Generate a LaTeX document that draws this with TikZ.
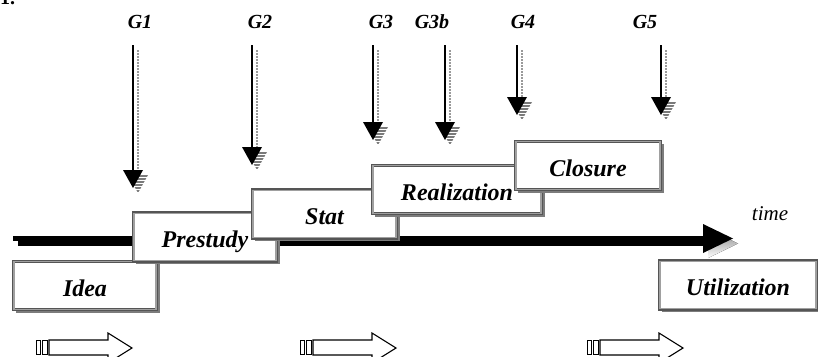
\documentclass[tikz,border=0pt]{standalone}
\usepackage{fontspec}
\setmainfont{Liberation Serif}
\usetikzlibrary{shadows,calc}

\definecolor{boxdark}{HTML}{555555}
\definecolor{boxlight}{HTML}{A0A0A0}
\definecolor{shade}{HTML}{7C7C7C}
\definecolor{stripe}{HTML}{7A7A7A}
\definecolor{dashgray}{HTML}{9A9A9A}

\tikzset{
  stage/.style={rectangle, draw=boxdark, line width=2.8pt, fill=white,
    minimum height=48.5pt, inner sep=0pt, outer sep=0pt,
    text height=21pt, text depth=0pt,
    font=\fontsize{24}{28}\selectfont\bfseries\itshape,
    drop shadow={shadow xshift=3pt, shadow yshift=-3pt, fill=shade, opacity=1}},
  innerframe/.style={draw=boxlight, line width=1.4pt},
  gatelabel/.style={anchor=base, inner sep=0pt,
    font=\fontsize{20}{24}\selectfont\bfseries\itshape},
  gateline/.style={line width=2pt},
  gateshadow/.style={dashgray, line width=1.6pt, dash pattern=on 2pt off 1pt},
  hollowarrow/.style={draw=black, line width=1.1pt, fill=white, line join=miter},
  hollowbar/.style={draw=black, line width=0.8pt, fill=white},
}

% stage box: name, centre x, centre y, width, text
\newcommand\stagebox[5]{%
  \node[stage, minimum width=#4] (#1) at (#2,#3) {#5};
  \draw[innerframe] ([shift={(0.5pt,-0.5pt)}]#1.north west)
    rectangle ([shift={(-0.5pt,0.5pt)}]#1.south east);
}

% gate: name, label x, label text, arrow x, head top y
\newcommand\gate[5]{%
  \node[gatelabel] (#1) at (#2,28) {#3};
  \coordinate (#1top) at (#4,45);
  \coordinate (#1head) at (#4,#5);
  \draw[gateshadow] ($(#1top)+(5,5)$) -- ($(#1head)+(5,5)$);
  \begin{scope}
    \clip ($(#1head)+(-5,5)$) -- ++(20,0) -- ++(-10,18) -- cycle;
    \foreach \s in {0,3,...,18}
      \draw[stripe, line width=1.9pt] ($(#1head)+(-6,6+\s)$) -- ++(24,0);
  \end{scope}
  \draw[gateline] (#1top) -- (#1head);
  \fill ($(#1head)+(-10,0)$) -- ++(20,0) -- ++(-10,18) -- cycle;
}

\begin{document}
\begin{tikzpicture}[x=1pt, y=-1pt]
  \useasboundingbox (0,0) rectangle (818,356);
  \clip (0,0) rectangle (818,356);

  % figure number, cut by the top edge
  \node[anchor=base west, inner sep=0pt, font=\fontsize{20}{24}\selectfont\bfseries]
    (fignum) at (0,4.5) {1.};

  % time axis with its shadow
  \coordinate (t0) at (13,238.5);
  \coordinate (t1) at (703,238.5);
  \draw[shade, line width=5pt] ($(t0)+(5,5)$) -- ($(t1)+(5,5)$);
  \fill[shade] ($(t1)+(5,-9.5)$) -- ++(30,14.5) -- ++(-30,14.5) -- cycle;
  \draw[line width=5pt] (t0) -- (t1);
  \fill ($(t1)+(0,-14.5)$) -- ++(30,14.5) -- ++(-30,14.5) -- cycle;
  \node[anchor=base, inner sep=0pt, font=\fontsize{21}{25}\selectfont\itshape]
    (timelabel) at (770,220) {time};

  % project phases
  \stagebox{idea}{85}{285.5}{143.2pt}{Idea}
  \stagebox{prestudy}{205}{237}{143.2pt}{Prestudy}
  \stagebox{stat}{324.5}{214}{144.2pt}{Stat}
  \stagebox{realization}{457}{189.5}{169.2pt}{Realization}
  \stagebox{closure}{588}{165.5}{145.2pt}{Closure}
  \stagebox{utilization}{738}{285}{157.2pt}{Utilization}

  % decision gates
  \gate{g1}{140}{G1}{133}{170}
  \gate{g2}{260}{G2}{252}{147}
  \gate{g3}{381}{G3}{373}{122}
  \gate{g3b}{432}{G3b}{445}{122}
  \gate{g4}{523}{G4}{517}{97}
  \gate{g5}{645}{G5}{661}{97}

  % hollow arrows along the bottom
  \foreach \dx in {0,264,551} {
    \begin{scope}[shift={(\dx,0)}]
      \draw[hollowarrow] (49,340) -- (108,340) -- (108,333) -- (132,348)
        -- (108,363) -- (108,355) -- (49,355) -- cycle;
      \draw[hollowbar] (36.6,340.4) rectangle (40.2,354.6);
      \draw[hollowbar] (42.2,340.4) rectangle (47.4,354.6);
    \end{scope}
  }
\end{tikzpicture}
\end{document}
